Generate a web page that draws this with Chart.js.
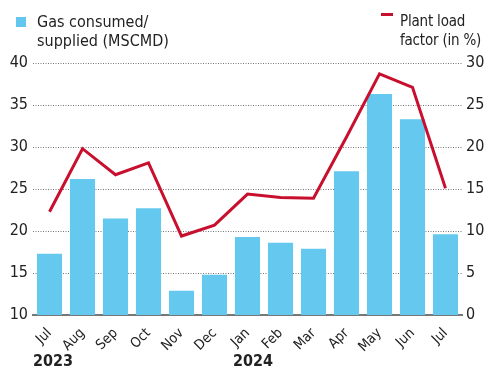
<!DOCTYPE html>
<html>
<head>
<meta charset="utf-8">
<script src="https://cdn.jsdelivr.net/npm/chart.js@4"></script>
<style>
  html, body { margin: 0; padding: 0; background: #fff; }
  #wrap { position: relative; width: 485px; height: 371px; overflow: hidden; }
  canvas { position: absolute; left: 0; top: 0; }
  .t { position: absolute; font-family: "Liberation Sans Narrow", "DejaVu Sans Condensed", "Roboto", sans-serif; color: #222; font-size: 16px; line-height: 19px; white-space: nowrap; }
  .yr { font-weight: bold; font-size: 16px; }
</style>
</head>
<body>
<div id="wrap">
  <canvas id="c" width="485" height="371"></canvas>
  <div style="position:absolute;left:16px;top:17px;width:10px;height:10px;background:#62c6ee;"></div>
  <div class="t" style="left:37px;top:12px;">Gas consumed/<br>supplied (MSCMD)</div>
  <div style="position:absolute;left:381px;top:13px;width:12px;height:3px;background:#c8102e;"></div>
  <div class="t" style="left:400px;top:12px;font-size:15px;letter-spacing:-0.2px;">Plant load<br>factor (in %)</div>
  <div class="t yr" style="left:33px;top:351px;">2023</div>
  <div class="t yr" style="left:233px;top:351px;">2024</div>
</div>
<script>
const categories = ["Jul","Aug","Sep","Oct","Nov","Dec","Jan","Feb","Mar","Apr","May","Jun","Jul"];
const gasValues = [17.3, 26.2, 21.5, 22.7, 12.9, 14.8, 19.3, 18.6, 17.9, 27.1, 36.3, 33.3, 19.6];
const plfValues = [12.3, 19.8, 16.7, 18.1, 9.4, 10.7, 14.4, 14.0, 13.9, 21.2, 28.7, 27.1, 15.1];
const leftTicks = [10, 15, 20, 25, 30, 35, 40];
const rightTicks = [0, 5, 10, 15, 20, 25, 30];

const FONT = '"Liberation Sans Narrow", "DejaVu Sans Condensed", Roboto, sans-serif';

new Chart(document.getElementById('c'), {
  data: {
    labels: categories,
    datasets: [
      {
        type: 'line', label: 'Plant load factor (in %)', data: plfValues, yAxisID: 'y1',
        borderColor: '#c8102e', borderWidth: 3, pointRadius: 0, tension: 0, order: 0,
        borderJoinStyle: 'miter'
      },
      {
        type: 'bar', label: 'Gas consumed/supplied (MSCMD)', data: gasValues, yAxisID: 'y',
        backgroundColor: '#64c8ef', barPercentage: 0.76, categoryPercentage: 1.0, order: 1
      }
    ]
  },
  options: {
    responsive: false,
    animation: false,
    devicePixelRatio: 1,
    layout: { padding: { top: 63, left: 0, right: 0, bottom: 0 } },
    plugins: { legend: { display: false }, tooltip: { enabled: false } },
    scales: {
      x: {
        grid: { display: false },
        border: { display: true, color: '#777', width: 2 },
        ticks: { minRotation: 45, maxRotation: 45, color: '#222', font: { family: FONT, size: 14 }, padding: 2 },
        afterFit: s => { s.height = 56; }
      },
      y: {
        position: 'left', min: 10, max: 40,
        afterBuildTicks: s => { s.ticks = leftTicks.map(v => ({ value: v })); },
        grid: { color: '#777', lineWidth: 1, drawTicks: false },
        border: { display: false, dash: [1, 1.5] },
        ticks: { color: '#222', font: { family: FONT, size: 16 }, padding: 5 },
        afterFit: s => { s.width = 33; }
      },
      y1: {
        position: 'right', min: 0, max: 30,
        afterBuildTicks: s => { s.ticks = rightTicks.map(v => ({ value: v })); },
        grid: { display: false, drawTicks: false },
        border: { display: false },
        ticks: { color: '#222', font: { family: FONT, size: 16 }, padding: 4 },
        afterFit: s => { s.width = 23; }
      }
    }
  }
});
</script>
</body>
</html>
